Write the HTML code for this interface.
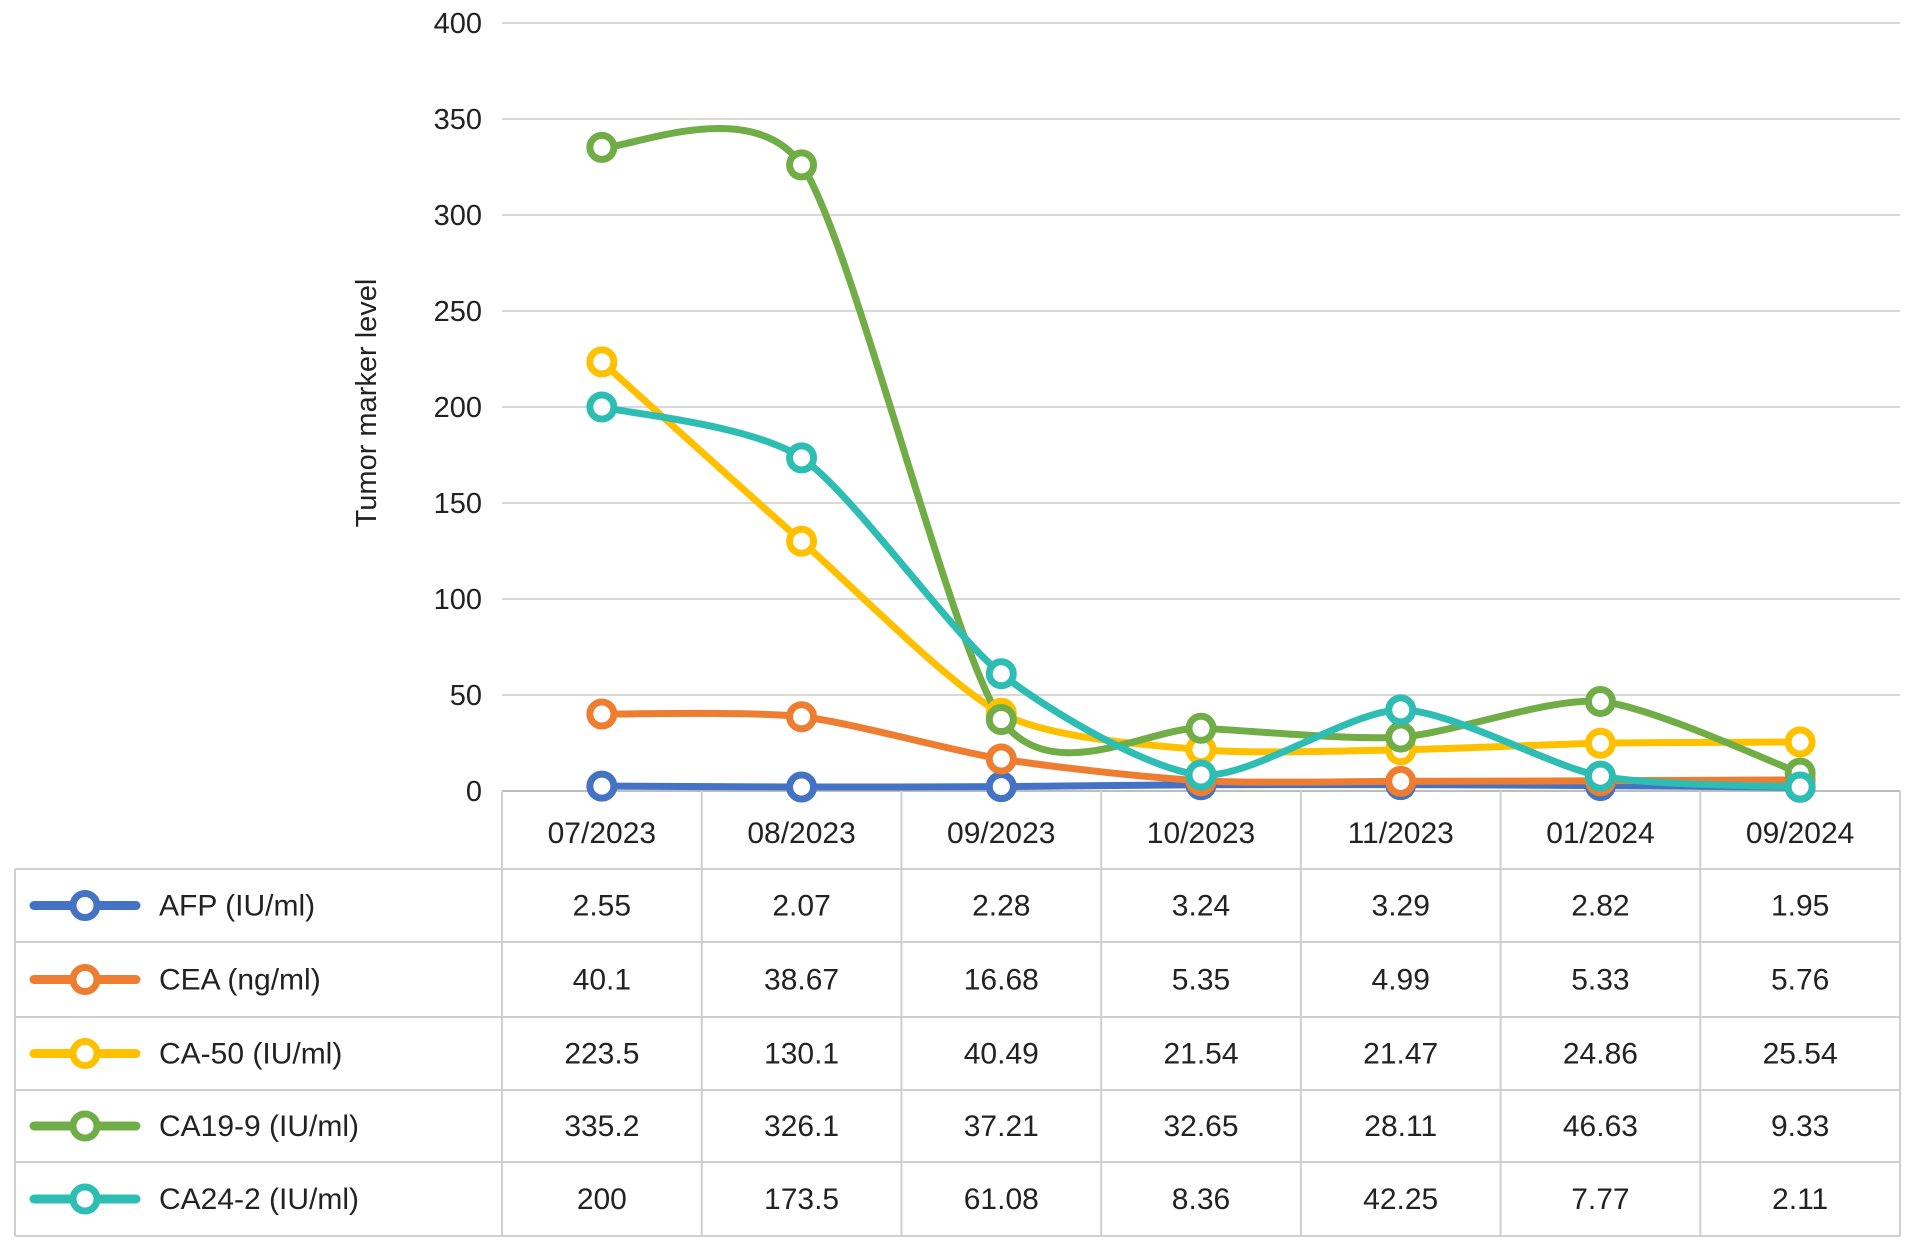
<!DOCTYPE html>
<html><head><meta charset="utf-8"><style>
html,body{margin:0;padding:0;background:#fff;}
svg{display:block;font-family:"Liberation Sans",Arial,sans-serif;}
</style></head><body>
<svg id="c" width="1914" height="1254" viewBox="0 0 1914 1254"></svg>
<script>
const categories=["07/2023","08/2023","09/2023","10/2023","11/2023","01/2024","09/2024"];
const seriesNames=["AFP (IU/ml)","CEA (ng/ml)","CA-50 (IU/ml)","CA19-9 (IU/ml)","CA24-2 (IU/ml)"];
const afp=[2.55,2.07,2.28,3.24,3.29,2.82,1.95];
const cea=[40.1,38.67,16.68,5.35,4.99,5.33,5.76];
const ca50=[223.5,130.1,40.49,21.54,21.47,24.86,25.54];
const ca199=[335.2,326.1,37.21,32.65,28.11,46.63,9.33];
const ca242=[200,173.5,61.08,8.36,42.25,7.77,2.11];
const yTicks=[0,50,100,150,200,250,300,350,400];
const colors=["#4472C4","#ED7D31","#FFC000","#70AD47","#2EBDB3"];
const series=[afp,cea,ca50,ca199,ca242];

const NS="http://www.w3.org/2000/svg";
const svg=document.getElementById('c');
const L=502,R=1900,T=23,B=791;
const colW=(R-L)/categories.length;
function x(i){return L+colW*(i+0.5);}
function y(v){return B-(v/400)*(B-T);}
function mk(tag,attrs,parent){const e=document.createElementNS(NS,tag);for(const k in attrs)e.setAttribute(k,attrs[k]);(parent||svg).appendChild(e);return e;}

yTicks.forEach(t=>{
  const g=mk('line',{x1:L,x2:R,y1:y(t),y2:y(t),stroke:t===0?'#bdbdbd':'#d9d9d9','stroke-width':2});
  
  
  const tx=mk('text',{x:482,y:y(t)+10,'text-anchor':'end','font-size':29,fill:'#222'});
  tx.textContent=t;
  
  
});
const yt=mk('text',{x:0,y:0,transform:'translate(376,403) rotate(-90)','text-anchor':'middle','font-size':29,fill:'#222'});
yt.textContent='Tumor marker level';



const rowTops=[791,869,942,1017,1090,1162,1236];
const tb='#cfcfcf';
mk('line',{x1:L,x2:L,y1:791,y2:1236,stroke:tb,'stroke-width':2});
for(let i=1;i<=categories.length;i++){
  mk('line',{x1:L+colW*i,x2:L+colW*i,y1:791,y2:1236,stroke:tb,'stroke-width':2});
}
mk('line',{x1:15,x2:15,y1:869,y2:1236,stroke:tb,'stroke-width':2});
for(let r=1;r<rowTops.length;r++){
  mk('line',{x1:15,x2:R,y1:rowTops[r],y2:rowTops[r],stroke:tb,'stroke-width':2});
}
categories.forEach((c,i)=>{
  const t=mk('text',{x:x(i),y:843,'text-anchor':'middle','font-size':30,fill:'#222'});
  t.textContent=c;
  
  
});
series.forEach((s,si)=>{
  const cy=(rowTops[si+1]+rowTops[si+2])/2;
  const g=mk('g',{});
  
  
  mk('line',{x1:34,x2:136,y1:cy,y2:cy,stroke:colors[si],'stroke-width':9,'stroke-linecap':'round'},g);
  mk('circle',{cx:85,cy:cy,r:12,fill:'#fff',stroke:colors[si],'stroke-width':7},g);
  const lt=mk('text',{x:159,y:cy+10,'font-size':30,fill:'#222'},g);
  lt.textContent=seriesNames[si];
  s.forEach((v,i)=>{
    const t=mk('text',{x:x(i),y:cy+10,'text-anchor':'middle','font-size':30,fill:'#222'});
    t.textContent=v;
    
    
  });
});

function path(s){
  const p=s.map((v,i)=>[x(i),y(v)]);
  let d='M'+p[0][0]+','+p[0][1];
  const k=8;
  for(let i=0;i<p.length-1;i++){
    const p0=p[i-1]||p[i],p1=p[i],p2=p[i+1],p3=p[i+2]||p2;
    const c1=[p1[0]+(p2[0]-p0[0])/k,p1[1]+(p2[1]-p0[1])/k];
    const c2=[p2[0]-(p3[0]-p1[0])/k,p2[1]-(p3[1]-p1[1])/k];
    d+=' C'+c1+' '+c2+' '+p2;
  }
  return d;
}
series.forEach((s,si)=>{
  const pl=mk('path',{d:path(s),fill:'none',stroke:colors[si],'stroke-width':7,'stroke-linecap':'round'});
  
  
});
series.forEach((s,si)=>{
  s.forEach((v,i)=>{
    const c=mk('circle',{cx:x(i),cy:y(v),r:12,fill:'#fff',stroke:colors[si],'stroke-width':7});
    
    
  });
});
</script>
</body></html>
